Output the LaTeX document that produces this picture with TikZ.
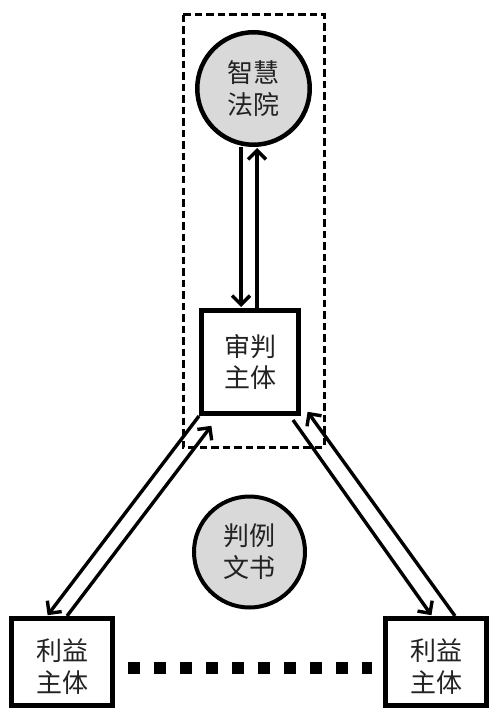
\documentclass[tikz,border=0pt]{standalone}
\usepackage{fontspec}
\newfontfamily\cjk{Noto Sans CJK SC}
\usetikzlibrary{arrows.meta}
\definecolor{circfill}{HTML}{D9D9D9}
\definecolor{txt}{HTML}{222222}
\begin{document}
\begin{tikzpicture}[x=1pt,y=-1pt,
  lbl/.style={font=\cjk\fontsize{26}{32}\selectfont, text=txt, align=center},
  roundnode/.style={lbl, circle, draw, line width=4.5pt, fill=circfill, inner sep=0pt},
  box/.style={lbl, rectangle, draw, line width=5pt, fill=white, inner sep=0pt},
  arr/.style={line width=3.4pt, -{Straight Barb[length=9pt,width=18pt]}, shorten >=1pt},
  dashbox/.style={line width=3pt, dash pattern=on 7.5pt off 4pt},
  dotline/.style={line width=12pt, dash pattern=on 12pt off 14pt}]
\useasboundingbox[fill=white] (0,0) rectangle (498,714);
\draw[dashbox] (183,15) rectangle (324,447);
\node[roundnode, minimum size=112.5pt] (court) at (253.5,88.5) {\raisebox{-4pt}[\height][\depth]{\begin{tabular}{@{}c@{}}智慧\\法院\end{tabular}}};
\node[box, minimum width=97pt, minimum height=103pt] (judge) at (250,362) {审判\\主体};
\node[roundnode, line width=4pt, minimum size=111pt] (doc) at (249.5,552) {判例\\文书};
\node[box, minimum width=101pt, minimum height=87pt] (lp) at (62,662) {\raisebox{-8pt}[\height][\depth]{\begin{tabular}{@{}c@{}}利益\\主体\end{tabular}}};
\node[box, minimum width=101pt, minimum height=87pt] (rp) at (436,662) {\raisebox{-8pt}[\height][\depth]{\begin{tabular}{@{}c@{}}利益\\主体\end{tabular}}};
% vertical arrows
\draw[arr] ([xshift=-12.5pt]court.south) -- ([xshift=-9pt]judge.north);
\draw[arr] ([xshift=7pt]judge.north) -- ([xshift=3.5pt]court.south);
% left diagonals
\draw[arr] (judge.south west) -- ([xshift=-15pt]lp.north);
\draw[arr] ([xshift=5pt]lp.north) -- ([xshift=-38pt,yshift=-9pt]judge.south);
% right diagonals
\draw[arr] ([xshift=43pt,yshift=-4pt]judge.south) -- ([xshift=-4pt]rp.north);
\draw[arr] ([xshift=19pt]rp.north) -- ([xshift=6pt,yshift=5pt]judge.south east);
% dotted link
\draw[dotline, shorten <=13pt, shorten >=11pt] ([yshift=-6pt]lp.east) -- ([yshift=-6pt]rp.west);
\end{tikzpicture}
\end{document}
